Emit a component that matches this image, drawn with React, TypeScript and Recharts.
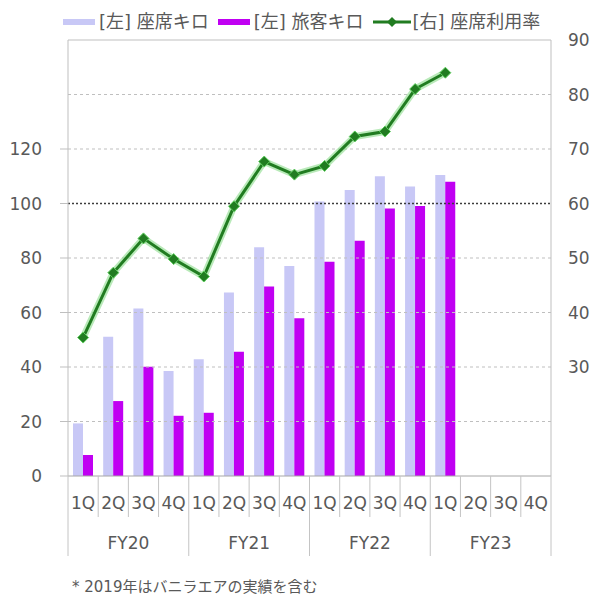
import React from 'react'
import { ComposedChart, Bar, Line, XAxis, YAxis, ReferenceLine, Legend } from 'recharts'

const quarters = ['1Q', '2Q', '3Q', '4Q', '1Q', '2Q', '3Q', '4Q', '1Q', '2Q', '3Q', '4Q', '1Q', '2Q', '3Q', '4Q']
const fiscalYears = ['FY20', 'FY21', 'FY22', 'FY23']

// [左] 座席キロ / [左] 旅客キロ (left axis), [右] 座席利用率 (right axis, %)
const seatKm = [19.3, 51.1, 61.5, 38.5, 42.8, 67.3, 83.9, 77.1, 100.7, 105, 110, 106.2, 110.5, null, null, null]
const passengerKm = [7.7, 27.5, 40.1, 22.1, 23.2, 45.6, 69.5, 57.9, 78.6, 86.3, 98.2, 99.1, 108, null, null, null]
const loadFactor = [35.4, 47.3, 53.6, 49.8, 46.6, 59.5, 67.7, 65.3, 66.9, 72.3, 73.2, 81.0, 84.0, null, null, null]

const leftTicks = [0, 20, 40, 60, 80, 100, 120]
const rightTicks = [30, 40, 50, 60, 70, 80, 90]
const gridValues = [20, 40, 60, 80, 120, 140]

const data = quarters.map((q, i) => ({
  key: `${fiscalYears[Math.floor(i / 4)]}-${q}`,
  seat: seatKm[i],
  pax: passengerKm[i],
  lf: loadFactor[i],
}))

const W = 593
const H = 556
const LEFT_W = 68
const RIGHT_W = 42
const BAND = (W - LEFT_W - RIGHT_W) / quarters.length

const FONT = '"DejaVu Sans", "Noto Sans CJK JP", sans-serif'
const TEXT = '#595959'
const SEP = '#c4c4c4'
const LIGHT = '#c8c8f6'
const PURPLE = '#c000f2'
const GREEN = '#217c21'

function QuarterTick(props: any) {
  const { x, y, index } = props
  const left = x - BAND / 2
  const groupStart = index % 4 === 0
  return (
    <g>
      <line x1={left} x2={left} y1={y} y2={y + (groupStart ? 80 : 41)} stroke={SEP} />
      {index === quarters.length - 1 && (
        <line x1={x + BAND / 2} x2={x + BAND / 2} y1={y} y2={y + 80} stroke={SEP} />
      )}
      <text x={x} y={y + 33} textAnchor="middle" fontSize={17} fill={TEXT} fontFamily={FONT}>
        {quarters[index]}
      </text>
      {index % 4 === 1 && (
        <text x={x + BAND / 2} y={y + 73} textAnchor="middle" fontSize={17} fill={TEXT} fontFamily={FONT}>
          {fiscalYears[Math.floor(index / 4)]}
        </text>
      )}
    </g>
  )
}

function Diamond(props: any) {
  const { cx, cy } = props
  if (cx == null || cy == null || props.value == null) return null
  const r = 5.5
  return (
    <polygon
      points={`${cx},${cy - r} ${cx + r},${cy} ${cx},${cy + r} ${cx - r},${cy}`}
      fill={GREEN}
      stroke="#5fcf5f"
      strokeWidth={1}
    />
  )
}

function renderLegend() {
  const item = { display: 'flex', alignItems: 'center', marginRight: 9 }
  const label = { fontSize: 18, color: TEXT, fontFamily: FONT, marginLeft: 4, whiteSpace: 'nowrap' as const }
  return (
    <div style={{ height: 40, boxSizing: 'border-box', paddingTop: 4, paddingLeft: 63, display: 'flex', alignItems: 'center', lineHeight: '24px', height2: 24 } as any}>
      <div style={{ ...item, height: 24 }}>
        <span style={{ width: 32, height: 6, background: LIGHT, display: 'inline-block' }} />
        <span style={label}>[左] 座席キロ</span>
      </div>
      <div style={{ ...item, height: 24 }}>
        <span style={{ width: 32, height: 6, background: PURPLE, display: 'inline-block' }} />
        <span style={label}>[左] 旅客キロ</span>
      </div>
      <div style={{ ...item, height: 24 }}>
        <svg width={38} height={12}>
          <line x1={0} x2={38} y1={6} y2={6} stroke={GREEN} strokeWidth={3} />
          <polygon points="19,1 24,6 19,11 14,6" fill={GREEN} />
        </svg>
        <span style={{ ...label, marginLeft: 2 }}>[右] 座席利用率</span>
      </div>
    </div>
  )
}

export default function App() {
  return (
    <div style={{ position: 'absolute', left: 0, top: 0, width: W, height: 595, background: '#fff' }}>
      <ComposedChart width={W} height={H} data={data} margin={{ top: 0, right: 0, bottom: 0, left: 0 }} barGap={0}>
        <Legend verticalAlign="top" content={renderLegend} wrapperStyle={{ left: 0, top: 0, width: W, height: 40 }} />
        <XAxis
          dataKey="key"
          xAxisId="q"
          height={80}
          interval={0}
          tickLine={false}
          tickSize={0}
          tickMargin={0}
          axisLine={{ stroke: '#a6a6a6' }}
          tick={<QuarterTick />}
        />
        <YAxis
          yAxisId="left"
          width={LEFT_W}
          domain={[0, 160]}
          ticks={leftTicks}
          interval={0}
          tickSize={8}
          tickMargin={18}
          axisLine={{ stroke: '#bfbfbf' }}
          tickLine={{ stroke: '#bfbfbf' }}
          tick={{ fill: TEXT, fontSize: 17, fontFamily: FONT }}
        />
        <YAxis
          yAxisId="right"
          orientation="right"
          width={RIGHT_W}
          domain={[10, 90]}
          ticks={rightTicks}
          interval={0}
          tickLine={false}
          tickSize={0}
          tickMargin={17}
          axisLine={{ stroke: '#bfbfbf' }}
          tick={{ fill: TEXT, fontSize: 17, fontFamily: FONT }}
        />
        {gridValues.map((v) => (
          <ReferenceLine key={v} y={v} yAxisId="left" xAxisId="q" stroke="#bfbfbf" strokeDasharray="3 3" />
        ))}
        <ReferenceLine y={100} yAxisId="left" xAxisId="q" stroke="#3c3c3c" strokeWidth={1.5} strokeDasharray="2 2" />
        <ReferenceLine y={160} yAxisId="left" xAxisId="q" stroke="#bfbfbf" />
        <Bar dataKey="seat" xAxisId="q" yAxisId="left" fill={LIGHT} barSize={10} isAnimationActive={false} />
        <Bar dataKey="pax" xAxisId="q" yAxisId="left" fill={PURPLE} barSize={10} isAnimationActive={false} />
        <Line
          dataKey="lf"
          xAxisId="q"
          yAxisId="right"
          stroke="#7fd87f"
          strokeOpacity={0.55}
          strokeWidth={7}
          dot={false}
          activeDot={false}
          legendType="none"
          isAnimationActive={false}
        />
        <Line
          dataKey="lf"
          xAxisId="q"
          yAxisId="right"
          stroke={GREEN}
          strokeWidth={3}
          dot={<Diamond />}
          activeDot={false}
          isAnimationActive={false}
        />
      </ComposedChart>
      <div
        style={{
          position: 'absolute',
          left: 72,
          top: 578,
          fontSize: 15,
          lineHeight: '18px',
          color: TEXT,
          fontFamily: FONT,
          whiteSpace: 'nowrap',
        }}
      >
        * 2019年はバニラエアの実績を含む
      </div>
    </div>
  )
}
